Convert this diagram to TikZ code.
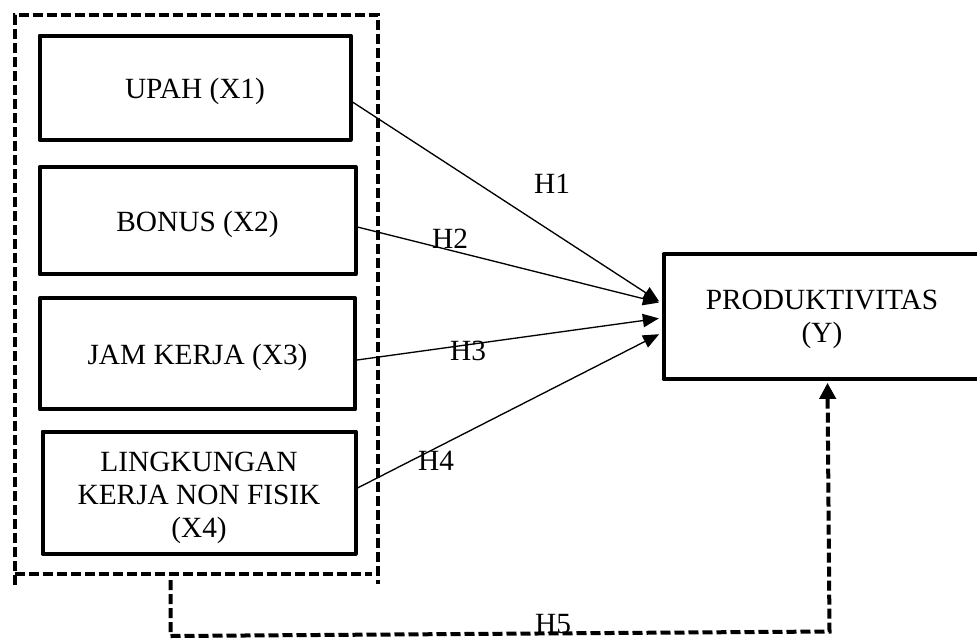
\documentclass[tikz,border=0pt]{standalone}
\usepackage{fontspec}
\setmainfont{Liberation Serif}
\usetikzlibrary{arrows.meta,calc}
\newcommand\myStrut{\rule{0pt}{21.5pt}}
\begin{document}
\begin{tikzpicture}[x=0.75pt,y=-0.75pt,
  box/.style={draw,line width=3pt,line join=round,inner sep=0pt,align=center,font=\fontsize{22}{24.5}\selectfont},
  hlab/.style={anchor=base,inner sep=0pt,font=\fontsize{22}{25}\selectfont},
  arr/.style={line width=1pt,-{Triangle[length=12pt,width=10pt]},shorten >=2pt},
  dsh/.style={line width=3pt,dash pattern=on 7.5pt off 3pt},
]
\useasboundingbox (0,0) rectangle (977,639);
% independent variables
\node[box,minimum width=233.25pt,minimum height=78pt] (upah) at (195,87.5) {\myStrut UPAH (X1)};
\node[box,minimum width=237pt,minimum height=80.6pt] (bonus) at (197.5,220.75) {\myStrut BONUS (X2)};
\node[box,minimum width=236.25pt,minimum height=83.6pt] (jam) at (197.5,353.75) {\myStrut JAM KERJA (X3)};
\node[box,minimum width=234.75pt,minimum height=91.5pt] (ling) at (199,492.5) {\rule{0pt}{22.5pt}LINGKUNGAN\\KERJA NON FISIK\\(X4)};
% dependent variable
\node[box,minimum width=237.75pt,minimum height=94.1pt] (prod) at (822,316.75) {\rule{0pt}{19pt}PRODUKTIVITAS\\(Y)};
% dashed group
\draw[dsh] (14.5,585) -- (14.5,15) -- (378,15) -- (378,584);
\draw[dsh] (14.5,574) -- (372,574);
\coordinate (grp) at (170.5,580);
% arrows
\draw[arr] ($(upah.east)+(0,14.5)$) -- ($(prod.west)+(0,-13.75)$);
\draw[arr] ($(bonus.east)+(0,6.25)$) -- ($(prod.west)+(0,-13.5)$);
\draw[arr] ($(jam.east)+(0,6.25)$) -- ($(prod.west)+(0,1.25)$);
\draw[arr] ($(ling.east)+(0,-4.5)$) -- ($(prod.west)+(0,16.25)$);
\draw[dsh,-{Triangle[length=12pt,width=12pt]},shorten >=1pt] (grp) -- (170.5,636) -- (829.5,631.5) -- ($(prod.south)+(5.5,0)$);
% labels
\node[hlab] (h1) at (552,193) {H1};
\node[hlab] (h2) at (450,248) {H2};
\node[hlab] (h3) at (468,360) {H3};
\node[hlab] (h4) at (436,470) {H4};
\node[hlab] (h5) at (553,633) {H5};
\end{tikzpicture}
\end{document}
